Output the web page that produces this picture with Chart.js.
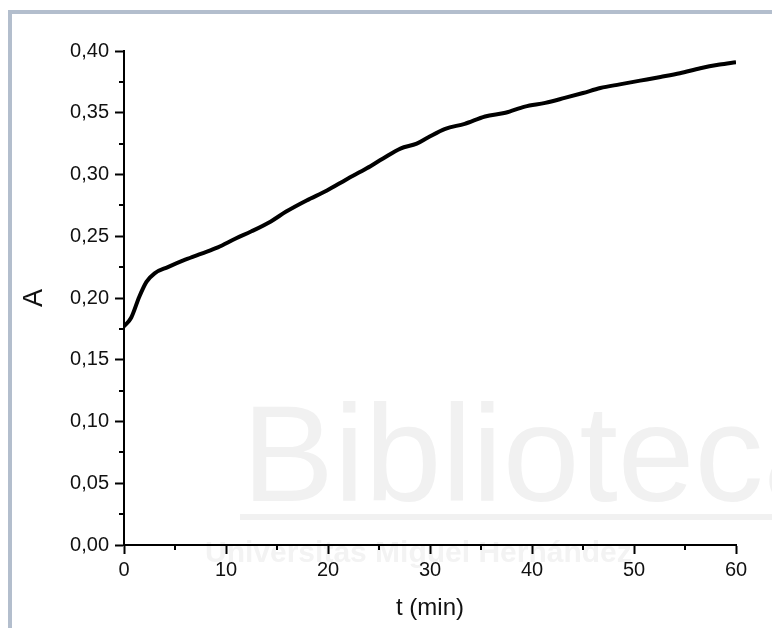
<!DOCTYPE html>
<html>
<head>
<meta charset="utf-8">
<script src="https://cdn.jsdelivr.net/npm/chart.js@4.4.1/dist/chart.umd.min.js"></script>
<style>
  body { margin: 0; background: #fff; }
  #frame { position: absolute; left: 8px; top: 10px; width: 800px; height: 700px;
           border-left: 4px solid #b3becd; border-top: 4px solid #b3becd; }
  #wrap { position: absolute; left: 0; top: 0; width: 772px; height: 628px; }
</style>
</head>
<body>
<div id="frame"></div>
<div id="wrap"><canvas id="absChart" width="772" height="628"></canvas></div>
<script>
// ---------- DATA ----------
const times = [0, 0.7, 1.5, 2.2, 3.0, 4.3, 6.0, 7.6, 9.2, 10.9, 12.5, 14.4, 15.9, 17.9, 19.9,
  21.8, 23.8, 25.4, 27.1, 28.7, 29.8, 31.5, 33.4, 35.4, 37.4, 39.3, 41.3, 43.2, 45.0,
  46.7, 48.6, 50.6, 52.6, 54.5, 56.5, 58.4, 60.0];
const absorbance = [0.177, 0.184, 0.201, 0.213, 0.220, 0.225, 0.231, 0.236, 0.241, 0.248, 0.254, 0.262, 0.270, 0.279, 0.287,
  0.296, 0.305, 0.313, 0.321, 0.325, 0.330, 0.337, 0.341, 0.347, 0.350, 0.355, 0.358, 0.362, 0.366,
  0.370, 0.373, 0.376, 0.379, 0.382, 0.386, 0.389, 0.391];
const xTicks = [0, 10, 20, 30, 40, 50, 60];
const yTicks = [0, 0.05, 0.10, 0.15, 0.20, 0.25, 0.30, 0.35, 0.40];
const xTitle = "t (min)";
const yTitle = "A";

const FONT = "'Liberation Sans', Arial, sans-serif";

// faint library watermark behind the plot
const watermark = {
  id: "watermark",
  beforeDraw(chart) {
    const ctx = chart.ctx;
    ctx.save();
    ctx.fillStyle = "#f1f1f1";
    ctx.font = "138px " + FONT;
    ctx.textBaseline = "alphabetic";
    ctx.fillText("Biblioteca", 242, 501);
    ctx.fillRect(240, 514, 540, 6);
    ctx.fillStyle = "#f3f3f3";
    ctx.font = "bold 30px " + FONT;
    ctx.fillText("Universitas Miguel Hernández", 205, 562);
    ctx.restore();
  }
};

// minor ticks half way between major ticks
const minorTicks = {
  id: "minorTicks",
  afterDraw(chart) {
    const ctx = chart.ctx;
    const xs = chart.scales.x, ys = chart.scales.y;
    ctx.save();
    ctx.strokeStyle = "#000";
    ctx.lineWidth = 2;
    for (let i = 0; i < xTicks.length - 1; i++) {
      const px = Math.round(xs.getPixelForValue((xTicks[i] + xTicks[i + 1]) / 2));
      ctx.beginPath();
      ctx.moveTo(px, ys.bottom);
      ctx.lineTo(px, ys.bottom + 5);
      ctx.stroke();
    }
    for (let i = 0; i < yTicks.length - 1; i++) {
      const py = Math.round(ys.getPixelForValue((yTicks[i] + yTicks[i + 1]) / 2));
      ctx.beginPath();
      ctx.moveTo(xs.left, py);
      ctx.lineTo(xs.left - 5, py);
      ctx.stroke();
    }
    ctx.restore();
  }
};

new Chart(document.getElementById("absChart"), {
  type: "line",
  data: {
    datasets: [{
      data: times.map((t, i) => ({ x: t, y: absorbance[i] })),
      borderColor: "#000",
      borderWidth: 4,
      pointRadius: 0,
      tension: 0.3,
      cubicInterpolationMode: "monotone",
      fill: false
    }]
  },
  options: {
    responsive: false,
    animation: false,
    layout: { padding: { left: 0, right: 36, top: 51, bottom: 0 } },
    plugins: { legend: { display: false }, tooltip: { enabled: false } },
    scales: {
      x: {
        type: "linear",
        min: 0, max: 60,
        afterBuildTicks: (s) => { s.ticks = xTicks.map(v => ({ value: v })); },
        afterFit: (s) => { s.height = 83; },
        border: { display: true, color: "#000", width: 2 },
        grid: { drawOnChartArea: false, tickLength: 9, tickWidth: 2, tickColor: "#000" },
        ticks: { color: "#111", font: { family: FONT, size: 20 }, padding: 4, maxRotation: 0,
                 callback: (v) => String(v) },
        title: { display: true, text: xTitle, color: "#111", font: { family: FONT, size: 24 },
                 padding: { top: 0, bottom: 5 } }
      },
      y: {
        min: 0, max: 0.4,
        afterBuildTicks: (s) => { s.ticks = yTicks.map(v => ({ value: v })); },
        afterFit: (s) => { s.width = 124; },
        border: { display: true, color: "#000", width: 2 },
        grid: { drawOnChartArea: false, tickLength: 9, tickWidth: 2, tickColor: "#000" },
        ticks: { color: "#111", font: { family: FONT, size: 20 }, padding: 6,
                 callback: (v) => v.toFixed(2).replace(".", ",") },
        title: { display: true, text: yTitle, color: "#111", font: { family: FONT, size: 27 },
                 padding: { top: 18, bottom: 0 } }
      }
    }
  },
  plugins: [watermark, minorTicks]
});
</script>
</body>
</html>
